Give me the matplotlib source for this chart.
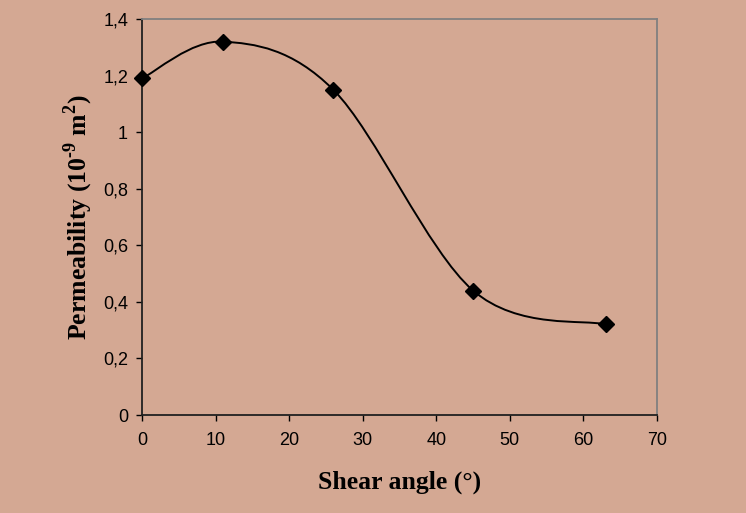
import numpy as np
import matplotlib
matplotlib.use("Agg")
import matplotlib.pyplot as plt
from matplotlib.path import Path
from matplotlib.patches import PathPatch

# data
shear_angle = [0, 11, 26, 45, 63]
permeability = [1.19, 1.32, 1.15, 0.44, 0.32]
x_ticks = [0, 10, 20, 30, 40, 50, 60, 70]
y_ticks = [0, 0.2, 0.4, 0.6, 0.8, 1.0, 1.2, 1.4]
y_tick_labels = ["0", "0,2", "0,4", "0,6", "0,8", "1", "1,2", "1,4"]

bg = "#D4A893"

plt.rcParams['mathtext.fontset'] = 'custom'
plt.rcParams['mathtext.bf'] = 'Liberation Serif:bold'
plt.rcParams['mathtext.rm'] = 'Liberation Serif:bold'


def smooth_path(xs, ys):
    # excel-like smoothed line: catmull-rom turned into cubic beziers
    pts = np.column_stack([xs, ys]).astype(float)
    ext = np.vstack([pts[0], pts, pts[-1]])
    verts = [pts[0]]
    codes = [Path.MOVETO]
    for i in range(len(pts) - 1):
        p0, p1, p2, p3 = ext[i], ext[i + 1], ext[i + 2], ext[i + 3]
        c1 = p1 + (p2 - p0) / 6.0
        c2 = p2 - (p3 - p1) / 6.0
        verts += [c1, c2, p2]
        codes += [Path.CURVE4] * 3
    return Path(verts, codes)


fig = plt.figure(figsize=(7.46, 5.13), dpi=100, facecolor=bg)
ax = fig.add_axes([142 / 746, 98 / 513, 515 / 746, 396 / 513])
ax.set_facecolor(bg)

ax.add_patch(PathPatch(smooth_path(shear_angle, permeability), fill=False,
                       edgecolor="black", lw=1.4, zorder=3))
ax.plot(shear_angle, permeability, linestyle="none", marker="D",
        markersize=8, color="black", zorder=4, clip_on=False)

ax.set_xlim(0, 70)
ax.set_ylim(0, 1.4)
ax.set_xticks(x_ticks)
ax.set_yticks(y_ticks)
ax.set_yticklabels(y_tick_labels)

ax.tick_params(axis="both", direction="out", length=4, width=1, color="black",
               labelsize=13, labelfontfamily="Liberation Sans")
ax.tick_params(axis="x", pad=8)
ax.tick_params(axis="y", pad=6)

ax.spines["left"].set_color("#202020")
ax.spines["bottom"].set_color("#202020")
ax.spines["top"].set_color("#808080")
ax.spines["right"].set_color("#808080")
for s in ax.spines.values():
    s.set_linewidth(1.3)

ax.set_xlabel("Shear angle (°)", fontfamily="Liberation Serif",
              fontweight="bold", fontsize=18.5, va="center")
ax.xaxis.set_label_coords(0.5, -0.169)
ax.set_ylabel(r"Permeability (10$^{\text{-9}}$ m$^{\text{2}}$)",
              fontfamily="Liberation Serif", fontweight="bold",
              fontsize=18.5, va="center")
ax.yaxis.set_label_coords(-0.124, 0.5)

fig.savefig("out.png", dpi=100, facecolor=bg)
